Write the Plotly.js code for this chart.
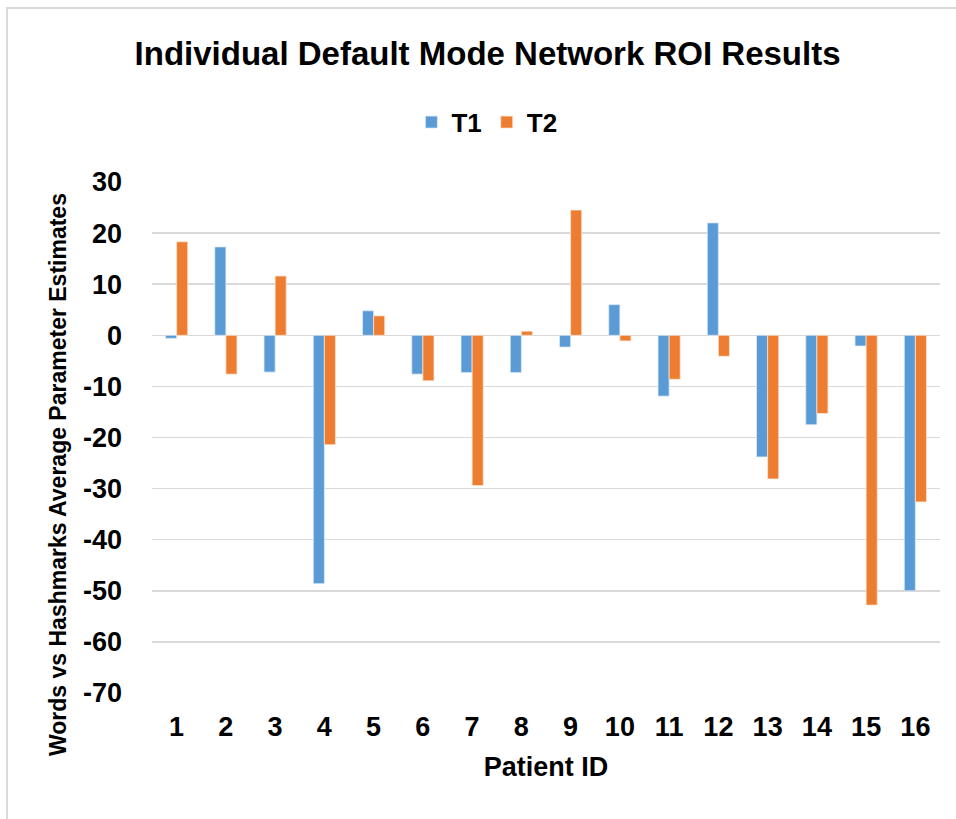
<!DOCTYPE html>
<html>
<head>
<meta charset="utf-8">
<script src="https://cdn.plot.ly/plotly-3.0.1.min.js"></script>
<style>
  html, body { margin: 0; padding: 0; background: #ffffff; }
  #wrap { position: relative; width: 956px; height: 819px; overflow: hidden; }
  #chart { position: absolute; left: 0; top: 0; width: 956px; height: 819px; }
  #frame { position: absolute; left: 6px; top: 7px; width: 1000px; height: 900px;
           border-left: 2px solid #d9d9d9; border-top: 2px solid #d9d9d9; pointer-events: none; }
</style>
</head>
<body>
<div id="wrap">
  <div id="chart"></div>
  <div id="frame"></div>
</div>
<script>
const patients = ["1","2","3","4","5","6","7","8","9","10","11","12","13","14","15","16"];
const t1 = [-0.6, 17.3, -7.2, -48.6, 4.8, -7.6, -7.3, -7.3, -2.3, 6.0, -11.9, 22.0, -23.8, -17.5, -2.1, -50.0];
const t2 = [18.3, -7.6, 11.6, -21.4, 3.8, -8.9, -29.4, 0.8, 24.5, -1.1, -8.6, -4.1, -28.1, -15.3, -52.8, -32.6];
const yTicks = [30, 20, 10, 0, -10, -20, -30, -40, -50, -60, -70];

const FONT = "Liberation Sans, Arial, sans-serif";

const traces = [
  { type: "bar", name: "<b>T1</b>", x: patients, y: t1,
    marker: { color: "#5B9BD5", line: { color: "#DDEBF7", width: 0.75 } } },
  { type: "bar", name: "<b>T2</b>", x: patients, y: t2,
    marker: { color: "#ED7D31", line: { color: "#FBE5D6", width: 0.75 } } }
];

const layout = {
  width: 956, height: 819,
  paper_bgcolor: "#ffffff", plot_bgcolor: "#ffffff",
  margin: { l: 152, r: 16, t: 182, b: 126 },
  font: { family: FONT, color: "#000000" },
  title: {
    text: "<b>Individual Default Mode Network ROI Results</b>",
    font: { family: FONT, size: 33, color: "#000000" },
    x: 0.51, xanchor: "center", xref: "container",
    y: 1 - 53 / 819, yanchor: "middle", yref: "container"
  },
  showlegend: true,
  legend: {
    orientation: "h", x: 0.425, xanchor: "center", y: 1.117, yanchor: "middle",
    font: { family: FONT, size: 26, color: "#000000" },
    traceorder: "normal", itemwidth: 30
  },
  barmode: "group", bargap: 0.55, bargroupgap: 0,
  xaxis: {
    type: "category",
    tickfont: { family: FONT, size: 27, color: "#000000", weight: "bold" },
    showgrid: false, showline: false, zeroline: false, ticks: "",
    ticklabelstandoff: 15,
    title: { text: "<b>Patient ID</b>", font: { family: FONT, size: 27, color: "#000000" }, standoff: 16 }
  },
  yaxis: {
    range: [-70, 30], tickvals: yTicks, ticktext: yTicks.map(String),
    tickfont: { family: FONT, size: 27, color: "#000000", weight: "bold" },
    showgrid: true, gridcolor: "#d9d9d9", gridwidth: 1.5,
    zeroline: true, zerolinecolor: "#d9d9d9", zerolinewidth: 1.5,
    showline: false, ticks: "",
    ticklabelstandoff: 29
  },
  annotations: [
    {
      text: "<b>Words vs Hashmarks Average Parameter Estimates</b>",
      textangle: -90, showarrow: false,
      xref: "paper", yref: "paper",
      x: (58 - 152) / 788, y: (693 - 475) / 511,
      xanchor: "center", yanchor: "middle",
      font: { family: FONT, size: 23, color: "#000000" }
    }
  ]
};

Plotly.newPlot("chart", traces, layout, { displayModeBar: false, staticPlot: true });
</script>
</body>
</html>
